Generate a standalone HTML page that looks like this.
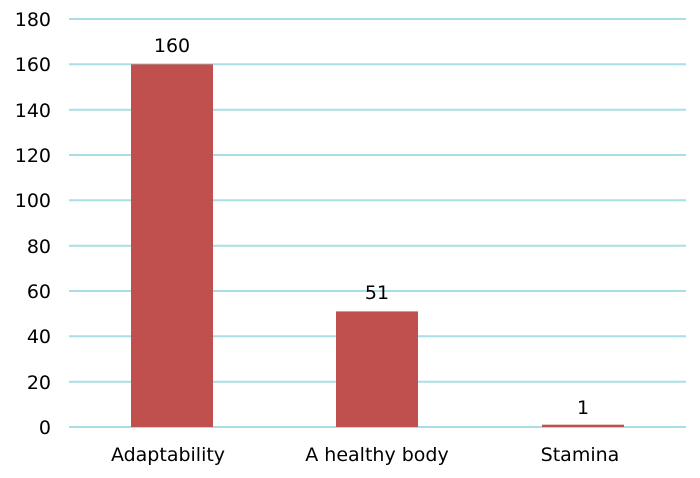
<!DOCTYPE html>
<html><head><style>body{margin:0;background:#fff}</style></head><body>
<svg width="700" height="473" xmlns="http://www.w3.org/2000/svg" font-family="DejaVu Sans, Verdana, sans-serif" font-size="19" fill="#000">
<g stroke="#a8dfe6" stroke-width="2">
<line x1="69" x2="686" y1="19" y2="19"/><line x1="69" x2="686" y1="64.3" y2="64.3"/>
<line x1="69" x2="686" y1="109.7" y2="109.7"/><line x1="69" x2="686" y1="155" y2="155"/>
<line x1="69" x2="686" y1="200.3" y2="200.3"/><line x1="69" x2="686" y1="245.7" y2="245.7"/>
<line x1="69" x2="686" y1="291" y2="291"/><line x1="69" x2="686" y1="336.3" y2="336.3"/>
<line x1="69" x2="686" y1="381.7" y2="381.7"/><line x1="69" x2="686" y1="427" y2="427"/>
</g>
<g text-anchor="end">
<text x="51" y="26">180</text><text x="51" y="71">160</text><text x="51" y="117">140</text>
<text x="51" y="162">120</text><text x="51" y="207">100</text><text x="51" y="253">80</text>
<text x="51" y="298">60</text><text x="51" y="343">40</text><text x="51" y="389">20</text>
<text x="51" y="434">0</text>
</g>
<g fill="#c0504d">
<rect x="131" y="64.3" width="82" height="362.7"/>
<rect x="336" y="311.4" width="82" height="115.6"/>
<rect x="542" y="424.7" width="82" height="2.3"/>
</g>
<g text-anchor="middle">
<text x="172" y="52">160</text><text x="377" y="299">51</text><text x="583" y="414">1</text>
<text x="168" y="461">Adaptability</text><text x="377" y="461">A healthy body</text><text x="580" y="461">Stamina</text>
</g>
</svg>
</body></html>
